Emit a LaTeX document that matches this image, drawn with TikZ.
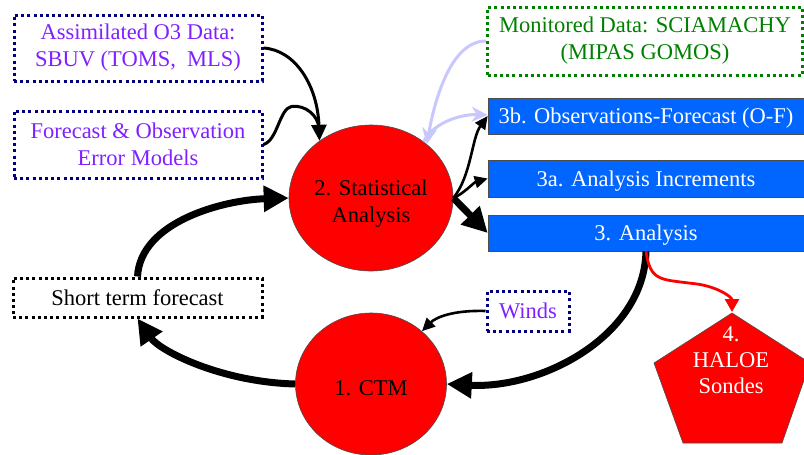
\documentclass[tikz,border=0pt]{standalone}
\usepackage{fontspec}
\setmainfont{Liberation Serif}
\usetikzlibrary{arrows.meta,shapes.geometric}
\definecolor{navyd}{RGB}{0,0,128}
\definecolor{purp}{RGB}{128,32,255}
\definecolor{grn}{RGB}{0,128,0}
\definecolor{blu}{RGB}{0,102,255}
\definecolor{lav}{RGB}{200,200,255}
\definecolor{redf}{RGB}{255,0,0}
\begin{document}
\begin{tikzpicture}[x=1pt,y=-1pt,
  font=\fontsize{22.5}{27}\selectfont,
  dotbox/.style={draw=navyd, line width=3pt, dash pattern=on 3pt off 3.2pt,
    text=purp, align=center, inner sep=0pt},
  greenbox/.style={dotbox, draw=grn, text=grn},
  blackdot/.style={dotbox, draw=black, text=black},
  bluebox/.style={draw=black!70, line width=0.6pt, fill=blu, text=white,
    inner sep=0pt, minimum width=316pt, minimum height=36pt},
  redcirc/.style={ellipse, draw=black!70, line width=0.6pt, fill=redf,
    inner sep=0pt, align=center},
  thinarr/.style={line width=3pt, -{Triangle[length=16pt,width=15pt]}},
  midarr/.style={line width=2.6pt, -{Triangle[length=13pt,width=12pt]}},
  thickarr/.style={line width=7pt, -{Triangle[length=25pt,width=25pt]}},
  lavarr/.style={draw=lav, line width=3pt, -{Stealth[length=16pt,width=15pt,inset=5pt]}},
  redarr/.style={draw=redf, line width=2.8pt, -{Triangle[length=13pt,width=14pt]}}
]
\useasboundingbox (0,0) rectangle (804,455);

% boxes
\node[dotbox, minimum width=248pt, minimum height=66pt] (asm) at (138,48)
  {Assimilated O3 Data:\\SBUV (TOMS,\ \ MLS)};
\node[dotbox, minimum width=248pt, minimum height=67pt] (fem) at (138,144.5)
  {Forecast \& Observation\\Error Models};
\node[greenbox, minimum width=315pt, minimum height=68pt] (mon) at (645,41)
  {Monitored Data: SCIAMACHY\\(MIPAS GOMOS)};
\node[bluebox] (ob3b) at (646,116) {\rule{0pt}{20pt}3b. Observations-Forecast (O-F)};
\node[bluebox, minimum height=37pt] (ob3a) at (646,178.5) {\rule{0pt}{20pt}3a. Analysis Increments};
\node[bluebox] (an3) at (646,233) {\rule{0pt}{20pt}3. Analysis};
\node[blackdot, minimum width=249pt, minimum height=39pt] (stf) at (137.5,297.5)
  {Short term forecast};
\node[dotbox, minimum width=82pt, minimum height=40pt] (winds) at (528,311) {Winds};

% circles
\node[redcirc, minimum width=164pt, minimum height=146pt] (sa) at (371,198)
  {\rule{0pt}{27pt}2. Statistical\\Analysis};
\node[redcirc, minimum width=151pt, minimum height=142pt] (ctm) at (371,384)
  {\rule{0pt}{24pt}1. CTM};

% pentagon
\draw[draw=black!70, line width=0.6pt, fill=redf]
  (732,313) -- (810,363) -- (782,443) -- (683,443) -- (654,363) -- cycle;
\coordinate (haltop) at (732,312);
\node[text=white, align=center, font=\fontsize{22.5}{26}\selectfont] (hal) at (731,360)
  {4.\\HALOE\\Sondes};

% inputs to statistical analysis
\draw[thinarr] (asm.east) .. controls +(32,2) and +(-2,-55) .. (sa.132);
\draw[line width=3pt, shorten >=12pt] (fem.east) .. controls +(14,-4) and +(-12,2) .. ++(28,-38)
  .. controls +(14,-2) and +(-1,-25) .. (sa.132);
\draw[thickarr] (stf.north) .. controls +(3,-55) and +(-65,2) .. (sa.west);

% cycle
\draw[thickarr] (ctm.west) .. controls +(-75,-2) and +(22,32) .. (stf.south);
\draw[thickarr] (an3.south) .. controls +(-2,85) and +(95,5) .. (ctm.east);
\draw[midarr] (winds.west) .. controls +(-32,-1) and +(14,-14) .. (ctm.46);

% outputs
\draw[midarr] (sa.east) .. controls +(18,-22) and +(-16,22) .. (ob3b.west);
\draw[midarr] (sa.east) .. controls +(10,-4) and +(-14,4) .. (ob3a.west);
\draw[thickarr] (sa.east) -- (an3.west);

% monitored (lavender)
\draw[lavarr] (mon.west) .. controls +(-35,0) and +(8,-45) .. (sa.44);
\draw[lavarr] (sa.47) .. controls +(12,-22) and +(-22,-1) .. ([yshift=1pt]ob3b.west);

% validation
\draw[redarr] (an3.south) .. controls +(4,30) and +(-30,-4) .. ++(45,32)
  .. controls +(25,2) and +(0,-15) .. (haltop);
\end{tikzpicture}
\end{document}
